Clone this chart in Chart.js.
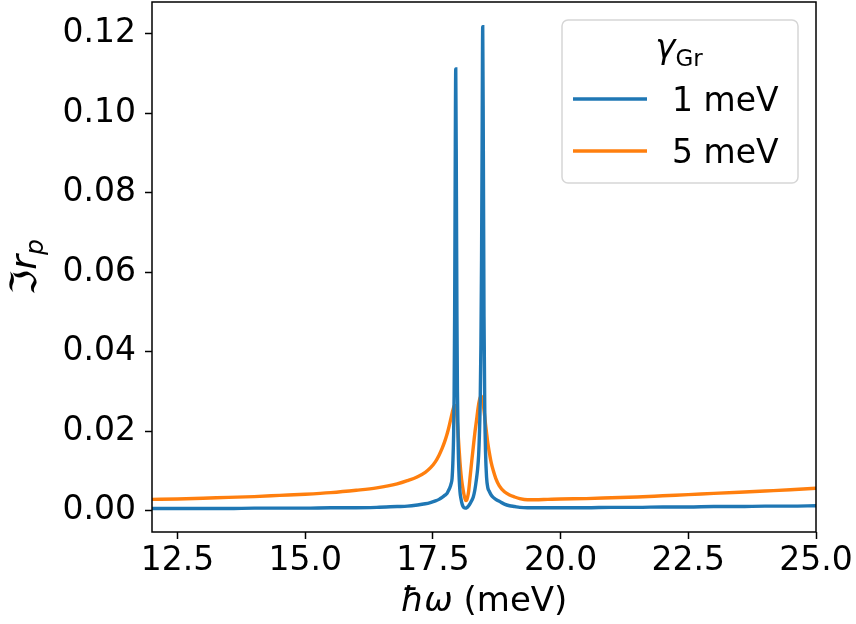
<!DOCTYPE html>
<html>
<head>
<meta charset="utf-8">
<title>Im r_p vs photon energy</title>
<script src="https://cdn.jsdelivr.net/npm/chart.js@4.4.1/dist/chart.umd.min.js"></script>
<style>
  html, body { margin: 0; padding: 0; background: #fff; }
  canvas { display: block; }
</style>
</head>
<body>
<canvas id="spectrum" width="856" height="624" style="width:856px;height:624px"></canvas>
<script>
// photon energy grid (meV), denser around the two resonances
const omega = [
  12.0, 12.5, 13.0, 13.5, 14.0, 14.5, 15.0, 15.5, 16.0, 16.4, 16.8, 17.0, 17.2, 17.35,
  17.45, 17.55, 17.62, 17.68, 17.73, 17.77, 17.80, 17.83, 17.855, 17.875, 17.89, 17.905,
  17.915, 17.925, 17.935, 17.947, 17.96, 17.97, 17.98, 17.995, 18.01, 18.03, 18.05, 18.07,
  18.09, 18.11, 18.13, 18.145, 18.16, 18.18, 18.20, 18.23, 18.26, 18.29, 18.32, 18.35,
  18.375, 18.395, 18.41, 18.425, 18.44, 18.452, 18.463, 18.475, 18.487, 18.50, 18.515,
  18.53, 18.55, 18.575, 18.60, 18.64, 18.68, 18.73, 18.80, 18.90, 19.0, 19.1, 19.2, 19.35,
  19.5, 19.75, 20.0, 20.5, 21.0, 21.5, 22.0, 22.5, 23.0, 23.5, 24.0, 24.5, 25.0
];

// Im r_p for gamma_Gr = 1 meV
const imRp1 = [
  0.0006, 0.0006, 0.0006, 0.0006, 0.0007, 0.0007, 0.0007, 0.0008, 0.0008, 0.0009, 0.0011, 0.0012, 0.0015, 0.0018,
  0.0021, 0.0025, 0.0029, 0.0034, 0.0039, 0.0043, 0.0050, 0.0058, 0.0068, 0.0082, 0.0120, 0.0190,
  0.0290, 0.0490, 0.0810, 0.1111, 0.0790, 0.0490, 0.0300, 0.0160, 0.0095, 0.0048, 0.0030, 0.0018,
  0.0011, 0.0008, 0.0007, 0.0007, 0.0008, 0.0010, 0.0013, 0.0019, 0.0026, 0.0035, 0.0052, 0.0078,
  0.0105, 0.0140, 0.0190, 0.0270, 0.0420, 0.0630, 0.0920, 0.1217, 0.0906, 0.0490, 0.0253,
  0.0148, 0.0085, 0.0058, 0.0050, 0.0040, 0.0034, 0.0029, 0.0024, 0.0017, 0.0013, 0.0011, 0.0009, 0.0008,
  0.0008, 0.0008, 0.0008, 0.0008, 0.0009, 0.0009, 0.0010, 0.0010, 0.0011, 0.0011, 0.0012, 0.0012, 0.0013
];

// Im r_p for gamma_Gr = 5 meV
const imRp5 = [
  0.0029, 0.0030, 0.0032, 0.0034, 0.0036, 0.0039, 0.0042, 0.0046, 0.0052, 0.0058, 0.0068, 0.0076, 0.0086, 0.0097,
  0.0108, 0.0124, 0.0140, 0.0157, 0.0174, 0.0190, 0.0204, 0.0220, 0.0234, 0.0245, 0.0253, 0.0260,
  0.0263, 0.0265, 0.0264, 0.0259, 0.0248, 0.0236, 0.0220, 0.0190, 0.0160, 0.0122, 0.0092, 0.0070,
  0.0054, 0.0040, 0.0030, 0.0026, 0.0027, 0.0035, 0.0050, 0.0088, 0.0125, 0.0160, 0.0195, 0.0224,
  0.0250, 0.0268, 0.0278, 0.0285, 0.0288, 0.0287, 0.0283, 0.0276, 0.0266, 0.0253, 0.0236,
  0.0218, 0.0196, 0.0170, 0.0150, 0.0122, 0.0102, 0.0082, 0.0063, 0.0048, 0.0040, 0.0035, 0.0031, 0.0028,
  0.0028, 0.0029, 0.0030, 0.0031, 0.0033, 0.0035, 0.0038, 0.0041, 0.0044, 0.0047, 0.0050, 0.0053, 0.0057
];

const seriesLabels = ['1 meV', '5 meV'];
const xTicks = [12.5, 15.0, 17.5, 20.0, 22.5, 25.0];
const yTicks = [0.00, 0.02, 0.04, 0.06, 0.08, 0.10, 0.12];

const FONT = "'DejaVu Sans'";

// draw a row of text pieces with different fonts / baseline shifts
function drawRuns(ctx, runs, x, y, align) {
  let total = 0;
  runs.forEach(r => { ctx.font = r.font; r.w = ctx.measureText(r.text).width; total += r.w; });
  let cx = align === 'center' ? x - total / 2 : x;
  ctx.textBaseline = 'alphabetic';
  ctx.textAlign = 'left';
  runs.forEach(r => {
    ctx.font = r.font;
    ctx.fillText(r.text, cx, y + (r.dy || 0));
    cx += r.w;
  });
}

const decorations = {
  id: 'decorations',
  afterDatasetsDraw(chart) {
    const ctx = chart.ctx;
    const a = chart.chartArea;
    ctx.save();

    // axes frame
    ctx.strokeStyle = '#000';
    ctx.lineWidth = 1.5;
    ctx.strokeRect(a.left, a.top, a.right - a.left, a.bottom - a.top);

    ctx.fillStyle = '#000';
    // x label: hbar omega (meV)
    drawRuns(ctx, [
      { text: 'ħω', font: 'italic 34px ' + FONT },
      { text: ' (meV)', font: '34px ' + FONT }
    ], (a.left + a.right) / 2, 611, 'center');

    // y label: Im r_p, rotated
    ctx.save();
    ctx.translate(36, (a.top + a.bottom) / 2);
    ctx.rotate(-Math.PI / 2);
    drawRuns(ctx, [
      { text: 'ℑ', font: '36px ' + FONT },
      { text: 'r', font: 'italic 36px ' + FONT },
      { text: 'p', font: 'italic 25px ' + FONT, dy: 7 }
    ], 0, 0, 'center');
    ctx.restore();

    // legend box
    const bx = 562, by = 20, bw = 236, bh = 163, rad = 6;
    ctx.beginPath();
    ctx.roundRect(bx, by, bw, bh, rad);
    ctx.fillStyle = 'rgba(255,255,255,0.8)';
    ctx.fill();
    ctx.strokeStyle = '#d6d6d6';
    ctx.lineWidth = 1.5;
    ctx.stroke();

    ctx.fillStyle = '#000';
    drawRuns(ctx, [
      { text: 'γ', font: 'italic 34px ' + FONT },
      { text: 'Gr', font: '23px ' + FONT, dy: 8 }
    ], 679, 58, 'center');

    const rows = [99, 151];
    chart.data.datasets.forEach((ds, i) => {
      ctx.strokeStyle = ds.borderColor;
      ctx.lineWidth = ds.borderWidth;
      ctx.beginPath();
      ctx.moveTo(573, rows[i]);
      ctx.lineTo(647, rows[i]);
      ctx.stroke();
      ctx.fillStyle = '#000';
      ctx.font = '33px ' + FONT;
      ctx.textAlign = 'left';
      ctx.textBaseline = 'alphabetic';
      ctx.fillText(ds.label, 672, rows[i] + 12);
    });

    ctx.restore();
  }
};

const axisStyle = {
  grid: { drawOnChartArea: false, drawTicks: true, tickLength: 7, tickWidth: 1.5, tickColor: '#000' },
  border: { display: false }
};

// keep Chart.js from reserving extra room for the end tick labels
function noLabelPadding(s) {
  s.paddingTop = 0;
  s.paddingBottom = 0;
  s.paddingLeft = 0;
  s.paddingRight = 0;
}

new Chart(document.getElementById('spectrum').getContext('2d'), {
  type: 'line',
  data: {
    datasets: [
      {
        label: seriesLabels[0],
        data: omega.map((x, i) => ({ x: x, y: imRp1[i] })),
        borderColor: '#1f77b4',
        borderWidth: 3.4,
        pointRadius: 0,
        cubicInterpolationMode: 'monotone',
        fill: false
      },
      {
        label: seriesLabels[1],
        data: omega.map((x, i) => ({ x: x, y: imRp5[i] })),
        borderColor: '#ff7f0e',
        borderWidth: 3.4,
        pointRadius: 0,
        cubicInterpolationMode: 'monotone',
        fill: false
      }
    ]
  },
  options: {
    responsive: false,
    animation: false,
    layout: { padding: { top: 2, right: 40, left: 0, bottom: 0 } },
    plugins: {
      legend: { display: false },
      tooltip: { enabled: false }
    },
    scales: {
      x: {
        type: 'linear',
        min: 12,
        max: 25,
        afterBuildTicks: s => { s.ticks = xTicks.map(v => ({ value: v })); },
        afterFit: s => { s.height = 92; noLabelPadding(s); },
        ticks: {
          font: { family: FONT, size: 33 },
          color: '#000',
          padding: 3,
          maxRotation: 0,
          autoSkip: false,
          callback: v => v.toFixed(1)
        },
        ...axisStyle
      },
      y: {
        type: 'linear',
        min: -0.0053,
        max: 0.1279,
        afterBuildTicks: s => { s.ticks = yTicks.map(v => ({ value: v })); },
        afterFit: s => { s.width = 152; noLabelPadding(s); },
        ticks: {
          font: { family: FONT, size: 33 },
          color: '#000',
          padding: 9,
          autoSkip: false,
          callback: v => v.toFixed(2)
        },
        ...axisStyle
      }
    }
  },
  plugins: [decorations]
});
</script>
</body>
</html>
